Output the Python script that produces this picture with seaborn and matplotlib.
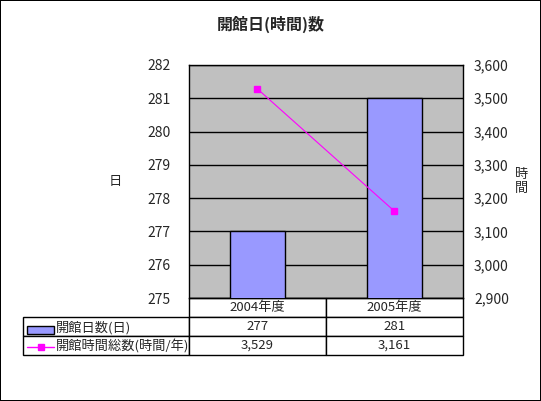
import numpy as np
import pandas as pd
import matplotlib
matplotlib.use("Agg")
import matplotlib.pyplot as plt
import seaborn as sns
from matplotlib.ticker import FuncFormatter, MultipleLocator
from matplotlib.patches import Rectangle
from matplotlib.lines import Line2D

sns.set_style("white")
plt.rcParams['font.family'] = ['Noto Sans CJK JP', 'DejaVu Sans']

# datos
categorias = ['2004年度', '2005年度']
dias = [277, 281]
horas = [3529, 3161]
serie_dias = '開館日数(日)'
serie_horas = '開館時間総数(時間/年)'
titulo = '開館日(時間)数'

color_barra = '#9999FF'
color_linea = '#FF00FF'

df = pd.DataFrame({'categoria': categorias, 'dias': dias, 'horas': horas})

fig = plt.figure(figsize=(5.41, 4.01), dpi=100)
fig.patch.set_edgecolor('black')
fig.patch.set_linewidth(1.2)

ax = fig.add_axes([188.5 / 541, 103 / 401, 274.5 / 541, 233 / 401])
ax.set_facecolor('#C0C0C0')

sns.barplot(data=df, x='categoria', y='dias', color=color_barra, width=0.4,
            edgecolor='black', linewidth=1, saturation=1, ax=ax, zorder=3)
ax.set_ylim(275, 282)
ax.yaxis.set_major_locator(MultipleLocator(1))
ax.grid(axis='y', color='black', linewidth=1, zorder=1)
ax.set_axisbelow(True)
ax.set_xlim(-0.5, 1.5)
ax.set_xlabel('')
ax.set_ylabel('日', rotation=0, fontsize=9.5, labelpad=23, va='center')
ax.tick_params(axis='x', length=0, labelbottom=False)
ax.tick_params(axis='y', length=0, labelsize=10, pad=13)
for s in ax.spines.values():
    s.set_color('black')
    s.set_linewidth(1)

ax2 = ax.twinx()
ax2.plot(df['categoria'], df['horas'], color=color_linea, linewidth=0.8,
         marker='s', markersize=5, zorder=4)
ax2.set_ylim(2900, 3600)
ax2.yaxis.set_major_locator(MultipleLocator(100))
ax2.yaxis.set_major_formatter(FuncFormatter(lambda v, p: f'{v:,.0f}'))
ax2.tick_params(axis='y', length=0, labelsize=10, pad=8)
ax2.set_ylabel('時\n間', rotation=0, fontsize=9.5, labelpad=9, va='center',
               linespacing=1.1)
ax2.grid(False)
for s in ax2.spines.values():
    s.set_visible(False)

fig.text(270.5 / 541, 1 - 24 / 401, titulo, ha='center', va='center',
         fontsize=11.5, fontweight='bold')

# tabla de datos
filas = [[''] + [str(d) for d in dias], [''] + [f'{h:,}' for h in horas]]
ancho_px = 274.5
x0 = (23 - 188.5) / ancho_px
alto = 57 / 233
tabla = ax.table(cellText=filas, colLabels=[''] + categorias,
                 cellLoc='center', bbox=[x0, -alto, 1 - x0, alto])
tabla.auto_set_font_size(False)
tabla.set_fontsize(9.5)
for (r, c), celda in tabla.get_celld().items():
    celda.set_linewidth(1)
    celda.set_edgecolor('black')
    celda.set_facecolor('white')
    celda.set_width(165.5 if c == 0 else 137.25)
    celda.set_height(1)
esquina = tabla[0, 0]
esquina.visible_edges = ''
esquina.set_facecolor('none')

# claves de leyenda y nombres de series
def ax_x(px):
    return (px - 188.5) / ancho_px

def ax_y(py):
    return (298 - py) / 233

ax.add_patch(Rectangle((ax_x(27), ax_y(333.5)), 26.5 / ancho_px, 7.5 / 233,
                       transform=ax.transAxes, facecolor=color_barra,
                       edgecolor='black', linewidth=1, clip_on=False, zorder=5))
ax.add_line(Line2D([ax_x(27), ax_x(54)], [ax_y(347), ax_y(347)],
                   transform=ax.transAxes, color=color_linea, linewidth=1,
                   clip_on=False, zorder=5))
ax.add_line(Line2D([ax_x(40.5)], [ax_y(347)], transform=ax.transAxes,
                   color=color_linea, marker='s', markersize=5,
                   clip_on=False, zorder=5))
ax.text(ax_x(56), ax_y(327.5), serie_dias, transform=ax.transAxes,
        fontsize=9.5, va='center', ha='left', zorder=6)
ax.text(ax_x(56), ax_y(346.5), serie_horas, transform=ax.transAxes,
        fontsize=9.5, va='center', ha='left', zorder=6)

fig.savefig('out.png', dpi=100, edgecolor=fig.get_edgecolor())
